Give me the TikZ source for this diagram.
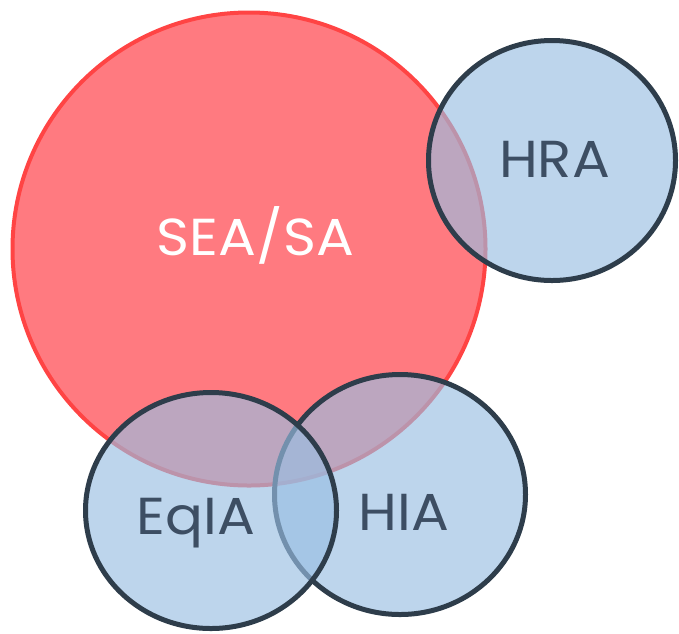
\documentclass[tikz,border=0pt]{standalone}
\usepackage{fontspec}
\setmainfont[FakeStretch=1.08]{Poppins}
\usetikzlibrary{shapes.geometric}
\definecolor{redfill}{HTML}{FF7A80}
\definecolor{redline}{HTML}{FF4444}
\definecolor{bluefill}{RGB}{153,190,226}
\definecolor{darkline}{HTML}{2E3D4B}
\definecolor{labeltext}{HTML}{3D4E63}
\tikzset{
  redset/.style={ellipse, inner sep=0pt, outer sep=0pt, fill=redfill, draw=redline, line width=4pt},
  blueset/.style={ellipse, inner sep=0pt, outer sep=0pt, fill=bluefill, fill opacity=0.65, draw=darkline, draw opacity=1, line width=5pt},
  setlabel/.style={inner sep=0pt, anchor=base, text=labeltext, font=\fontsize{52}{60}\selectfont},
}
\begin{document}
\begin{tikzpicture}[x=1pt, y=-1pt]
\useasboundingbox (0,0) rectangle (679,633);
\node[redset, minimum width=473pt, minimum height=473pt] (sea) at (249,249) {};
\node[blueset, minimum width=247pt, minimum height=240pt] (hra) at (552,160.5) {};
\node[blueset, minimum width=251pt, minimum height=240pt] (hia) at (400,494.5) {};
\node[blueset, minimum width=251pt, minimum height=236pt] (eqia) at (211,510.5) {};
\node[setlabel, text=white] (tsea) at (255.5,255) {SEA/SA};
\node[setlabel] (thra) at (554.5,177) {HRA};
\node[setlabel] (thia) at (404,530) {HIA};
\node[setlabel] (teqia) at (196,534) {EqIA};
\end{tikzpicture}
\end{document}
